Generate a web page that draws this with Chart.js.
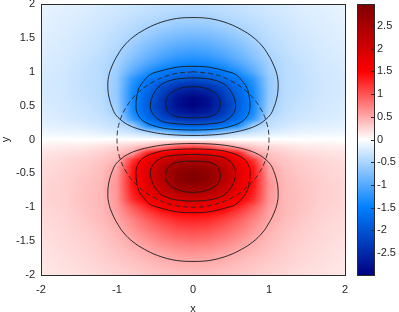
<!DOCTYPE html>
<html><head><meta charset="utf-8">
<script src="https://cdn.jsdelivr.net/npm/chart.js@4.4.1/dist/chart.umd.min.js"></script>
<style>html,body{margin:0;padding:0;background:#fff}#wrap{width:399px;height:312px;position:relative}</style>
</head><body><div id="wrap"><canvas id="c" width="399" height="312"></canvas></div>
<script>
// ---- data ----
const gridX = [-2,-1.7,-1.4,-1.2,-1,-0.8,-0.6,-0.4,-0.2,0,0.2,0.4,0.6,0.8,1,1.2,1.4,1.7,2];
const gridY = [2,1.9,1.8,1.7,1.6,1.5,1.4,1.3,1.2,1.1,1,0.9,0.8,0.7,0.6,0.5,0.4,0.3,0.2,0.1,0,
  -0.1,-0.2,-0.3,-0.4,-0.5,-0.6,-0.7,-0.8,-0.9,-1,-1.1,-1.2,-1.3,-1.4,-1.5,-1.6,-1.7,-1.8,-1.9,-2];
const zRows = [
[-0.13,-0.165,-0.20,-0.23,-0.26,-0.29,-0.33,-0.36,-0.38,-0.39,-0.38,-0.36,-0.33,-0.29,-0.26,-0.23,-0.20,-0.165,-0.13],
[-0.14,-0.18,-0.21,-0.25,-0.28,-0.32,-0.36,-0.40,-0.43,-0.44,-0.43,-0.40,-0.36,-0.32,-0.28,-0.25,-0.21,-0.18,-0.14],
[-0.15,-0.19,-0.23,-0.27,-0.31,-0.36,-0.41,-0.46,-0.50,-0.51,-0.50,-0.46,-0.41,-0.36,-0.31,-0.27,-0.23,-0.19,-0.15],
[-0.16,-0.20,-0.245,-0.29,-0.34,-0.40,-0.47,-0.53,-0.59,-0.61,-0.59,-0.53,-0.47,-0.40,-0.34,-0.29,-0.245,-0.20,-0.16],
[-0.17,-0.21,-0.26,-0.31,-0.37,-0.45,-0.54,-0.63,-0.70,-0.72,-0.70,-0.63,-0.54,-0.45,-0.37,-0.31,-0.26,-0.21,-0.17],
[-0.18,-0.22,-0.28,-0.33,-0.40,-0.50,-0.63,-0.74,-0.82,-0.85,-0.82,-0.74,-0.63,-0.50,-0.40,-0.33,-0.28,-0.22,-0.18],
[-0.19,-0.23,-0.29,-0.35,-0.43,-0.57,-0.72,-0.85,-0.95,-0.98,-0.95,-0.85,-0.72,-0.57,-0.43,-0.35,-0.29,-0.23,-0.19],
[-0.20,-0.24,-0.31,-0.37,-0.47,-0.64,-0.82,-0.97,-1.08,-1.12,-1.08,-0.97,-0.82,-0.64,-0.47,-0.37,-0.31,-0.24,-0.20],
[-0.21,-0.25,-0.33,-0.40,-0.51,-0.71,-0.92,-1.10,-1.23,-1.28,-1.23,-1.10,-0.92,-0.71,-0.51,-0.40,-0.33,-0.25,-0.21],
[-0.22,-0.26,-0.35,-0.42,-0.54,-0.83,-1.08,-1.29,-1.42,-1.46,-1.42,-1.29,-1.08,-0.83,-0.54,-0.42,-0.35,-0.26,-0.22],
[-0.23,-0.27,-0.36,-0.42,-0.58,-0.96,-1.28,-1.55,-1.69,-1.73,-1.69,-1.55,-1.28,-0.96,-0.58,-0.42,-0.36,-0.27,-0.23],
[-0.24,-0.28,-0.37,-0.42,-0.62,-1.20,-1.54,-1.71,-1.91,-2.04,-1.91,-1.71,-1.54,-1.20,-0.62,-0.42,-0.37,-0.28,-0.24],
[-0.24,-0.28,-0.37,-0.42,-0.62,-1.29,-1.67,-2.05,-2.33,-2.43,-2.33,-2.05,-1.67,-1.29,-0.62,-0.42,-0.37,-0.28,-0.24],
[-0.24,-0.28,-0.36,-0.42,-0.64,-1.35,-1.78,-2.22,-2.60,-2.72,-2.60,-2.22,-1.78,-1.35,-0.64,-0.42,-0.36,-0.28,-0.24],
[-0.23,-0.27,-0.35,-0.41,-0.62,-1.37,-1.85,-2.35,-2.79,-2.95,-2.79,-2.35,-1.85,-1.37,-0.62,-0.41,-0.35,-0.27,-0.23],
[-0.22,-0.26,-0.33,-0.39,-0.58,-1.37,-1.89,-2.39,-2.80,-2.95,-2.80,-2.39,-1.89,-1.37,-0.58,-0.39,-0.33,-0.26,-0.22],
[-0.21,-0.25,-0.31,-0.37,-0.53,-1.33,-1.84,-2.31,-2.65,-2.75,-2.65,-2.31,-1.84,-1.33,-0.53,-0.37,-0.31,-0.25,-0.21],
[-0.19,-0.23,-0.28,-0.33,-0.42,-1.15,-1.67,-2.07,-2.32,-2.40,-2.32,-2.07,-1.67,-1.15,-0.42,-0.33,-0.28,-0.23,-0.19],
[-0.15,-0.18,-0.22,-0.28,-0.36,-0.52,-1.30,-1.63,-1.82,-1.87,-1.82,-1.63,-1.30,-0.52,-0.36,-0.28,-0.22,-0.18,-0.15],
[-0.09,-0.11,-0.13,-0.17,-0.22,-0.30,-0.42,-0.62,-0.90,-1.00,-0.90,-0.62,-0.42,-0.30,-0.22,-0.17,-0.13,-0.11,-0.09],
[0,0,0,0,0,0,0,0,0,0,0,0,0,0,0,0,0,0,0],
[0.09,0.11,0.13,0.17,0.22,0.30,0.42,0.62,0.90,1.00,0.90,0.62,0.42,0.30,0.22,0.17,0.13,0.11,0.09],
[0.15,0.18,0.22,0.28,0.36,0.52,1.30,1.63,1.82,1.87,1.82,1.63,1.30,0.52,0.36,0.28,0.22,0.18,0.15],
[0.19,0.23,0.28,0.33,0.42,1.15,1.67,2.07,2.32,2.40,2.32,2.07,1.67,1.15,0.42,0.33,0.28,0.23,0.19],
[0.21,0.25,0.31,0.37,0.53,1.33,1.84,2.31,2.65,2.75,2.65,2.31,1.84,1.33,0.53,0.37,0.31,0.25,0.21],
[0.22,0.26,0.33,0.39,0.58,1.37,1.89,2.39,2.80,2.95,2.80,2.39,1.89,1.37,0.58,0.39,0.33,0.26,0.22],
[0.23,0.27,0.35,0.41,0.62,1.37,1.85,2.35,2.79,2.95,2.79,2.35,1.85,1.37,0.62,0.41,0.35,0.27,0.23],
[0.24,0.28,0.36,0.42,0.64,1.35,1.78,2.22,2.60,2.72,2.60,2.22,1.78,1.35,0.64,0.42,0.36,0.28,0.24],
[0.24,0.28,0.37,0.42,0.62,1.29,1.67,2.05,2.33,2.43,2.33,2.05,1.67,1.29,0.62,0.42,0.37,0.28,0.24],
[0.24,0.28,0.37,0.42,0.62,1.20,1.54,1.71,1.91,2.04,1.91,1.71,1.54,1.20,0.62,0.42,0.37,0.28,0.24],
[0.23,0.27,0.36,0.42,0.58,0.96,1.28,1.55,1.69,1.73,1.69,1.55,1.28,0.96,0.58,0.42,0.36,0.27,0.23],
[0.22,0.26,0.35,0.42,0.54,0.83,1.08,1.29,1.42,1.46,1.42,1.29,1.08,0.83,0.54,0.42,0.35,0.26,0.22],
[0.21,0.25,0.33,0.40,0.51,0.71,0.92,1.10,1.23,1.28,1.23,1.10,0.92,0.71,0.51,0.40,0.33,0.25,0.21],
[0.20,0.24,0.31,0.37,0.47,0.64,0.82,0.97,1.08,1.12,1.08,0.97,0.82,0.64,0.47,0.37,0.31,0.24,0.20],
[0.19,0.23,0.29,0.35,0.43,0.57,0.72,0.85,0.95,0.98,0.95,0.85,0.72,0.57,0.43,0.35,0.29,0.23,0.19],
[0.18,0.22,0.28,0.33,0.40,0.50,0.63,0.74,0.82,0.85,0.82,0.74,0.63,0.50,0.40,0.33,0.28,0.22,0.18],
[0.17,0.21,0.26,0.31,0.37,0.45,0.54,0.63,0.70,0.72,0.70,0.63,0.54,0.45,0.37,0.31,0.26,0.21,0.17],
[0.16,0.20,0.245,0.29,0.34,0.40,0.47,0.53,0.59,0.61,0.59,0.53,0.47,0.40,0.34,0.29,0.245,0.20,0.16],
[0.15,0.19,0.23,0.27,0.31,0.36,0.41,0.46,0.50,0.51,0.50,0.46,0.41,0.36,0.31,0.27,0.23,0.19,0.15],
[0.14,0.18,0.21,0.25,0.28,0.32,0.36,0.40,0.43,0.44,0.43,0.40,0.36,0.32,0.28,0.25,0.21,0.18,0.14],
[0.13,0.165,0.20,0.23,0.26,0.29,0.33,0.36,0.38,0.39,0.38,0.36,0.33,0.29,0.26,0.23,0.20,0.165,0.13]
];
const colorRange = [-2.98, 2.98];
const xTickValues = [-2,-1,0,1,2];
const yTickValues = [-2,-1.5,-1,-0.5,0,0.5,1,1.5,2];
const cbTickValues = [-2.5,-2,-1.5,-1,-0.5,0,0.5,1,1.5,2,2.5];

// contour lines (x, y)
const blueLevel05 = [[0,1.80],[-0.14,1.795],[-0.29,1.77],[-0.47,1.71],[-0.64,1.62],[-0.79,1.51],[-0.91,1.38],[-0.99,1.25],[-1.06,1.10],[-1.11,0.93],[-1.12,0.76],[-1.10,0.60],[-1.06,0.46],[-1.02,0.37],[-0.95,0.29],[-0.86,0.22],[-0.73,0.16],[-0.55,0.11],[-0.38,0.08],[-0.2,0.065],[0,0.06],[0.2,0.065],[0.38,0.08],[0.55,0.11],[0.73,0.16],[0.86,0.22],[0.95,0.29],[1.02,0.37],[1.06,0.46],[1.10,0.60],[1.12,0.76],[1.11,0.93],[1.06,1.10],[0.99,1.25],[0.91,1.38],[0.79,1.51],[0.64,1.62],[0.47,1.71],[0.29,1.77],[0.14,1.795],[0,1.80]];
const blueLevel15 = [[0,1.08],[-0.15,1.075],[-0.29,1.05],[-0.43,1.01],[-0.56,0.96],[-0.65,0.86],[-0.71,0.76],[-0.74,0.63],[-0.75,0.51],[-0.74,0.41],[-0.69,0.31],[-0.62,0.25],[-0.51,0.20],[-0.38,0.165],[-0.25,0.15],[-0.12,0.142],[0,0.14],[0.12,0.142],[0.25,0.15],[0.38,0.165],[0.51,0.20],[0.62,0.25],[0.69,0.31],[0.74,0.41],[0.75,0.51],[0.74,0.63],[0.71,0.76],[0.65,0.86],[0.56,0.96],[0.43,1.01],[0.29,1.05],[0.15,1.075],[0,1.08]];
const blueLevel20 = [[0,0.91],[-0.13,0.903],[-0.25,0.885],[-0.35,0.85],[-0.43,0.80],[-0.52,0.67],[-0.56,0.51],[-0.53,0.38],[-0.43,0.28],[-0.35,0.25],[-0.25,0.235],[-0.12,0.224],[0,0.22],[0.12,0.224],[0.25,0.235],[0.35,0.25],[0.43,0.28],[0.53,0.38],[0.56,0.51],[0.52,0.67],[0.43,0.80],[0.35,0.85],[0.25,0.885],[0.13,0.903],[0,0.91]];
const blueLevel25 = [[0,0.78],[-0.1,0.773],[-0.18,0.75],[-0.26,0.71],[-0.31,0.67],[-0.35,0.6],[-0.36,0.54],[-0.35,0.47],[-0.32,0.40],[-0.27,0.36],[-0.2,0.335],[-0.1,0.323],[0,0.32],[0.1,0.323],[0.2,0.335],[0.27,0.36],[0.32,0.40],[0.35,0.47],[0.36,0.54],[0.35,0.6],[0.31,0.67],[0.26,0.71],[0.18,0.75],[0.1,0.773],[0,0.78]];
const redLevel05 = [[0,-1.80],[-0.14,-1.795],[-0.29,-1.77],[-0.47,-1.71],[-0.64,-1.62],[-0.79,-1.51],[-0.91,-1.38],[-0.99,-1.25],[-1.06,-1.10],[-1.11,-0.93],[-1.12,-0.76],[-1.10,-0.60],[-1.06,-0.46],[-1.02,-0.37],[-0.95,-0.29],[-0.86,-0.22],[-0.73,-0.16],[-0.55,-0.11],[-0.38,-0.08],[-0.2,-0.065],[0,-0.06],[0.2,-0.065],[0.38,-0.08],[0.55,-0.11],[0.73,-0.16],[0.86,-0.22],[0.95,-0.29],[1.02,-0.37],[1.06,-0.46],[1.10,-0.60],[1.12,-0.76],[1.11,-0.93],[1.06,-1.10],[0.99,-1.25],[0.91,-1.38],[0.79,-1.51],[0.64,-1.62],[0.47,-1.71],[0.29,-1.77],[0.14,-1.795],[0,-1.80]];
const redLevel15 = [[0,-1.08],[-0.15,-1.075],[-0.29,-1.05],[-0.43,-1.01],[-0.56,-0.96],[-0.65,-0.86],[-0.71,-0.76],[-0.74,-0.63],[-0.75,-0.51],[-0.74,-0.41],[-0.69,-0.31],[-0.62,-0.25],[-0.51,-0.20],[-0.38,-0.165],[-0.25,-0.15],[-0.12,-0.142],[0,-0.14],[0.12,-0.142],[0.25,-0.15],[0.38,-0.165],[0.51,-0.20],[0.62,-0.25],[0.69,-0.31],[0.74,-0.41],[0.75,-0.51],[0.74,-0.63],[0.71,-0.76],[0.65,-0.86],[0.56,-0.96],[0.43,-1.01],[0.29,-1.05],[0.15,-1.075],[0,-1.08]];
const redLevel20 = [[0,-0.91],[-0.13,-0.903],[-0.25,-0.885],[-0.35,-0.85],[-0.43,-0.80],[-0.52,-0.67],[-0.56,-0.51],[-0.53,-0.38],[-0.43,-0.28],[-0.35,-0.25],[-0.25,-0.235],[-0.12,-0.224],[0,-0.22],[0.12,-0.224],[0.25,-0.235],[0.35,-0.25],[0.43,-0.28],[0.53,-0.38],[0.56,-0.51],[0.52,-0.67],[0.43,-0.80],[0.35,-0.85],[0.25,-0.885],[0.13,-0.903],[0,-0.91]];
const redLevel25 = [[0,-0.78],[-0.1,-0.773],[-0.18,-0.75],[-0.26,-0.71],[-0.31,-0.67],[-0.35,-0.6],[-0.36,-0.54],[-0.35,-0.47],[-0.32,-0.40],[-0.27,-0.36],[-0.2,-0.335],[-0.1,-0.323],[0,-0.32],[0.1,-0.323],[0.2,-0.335],[0.27,-0.36],[0.32,-0.40],[0.35,-0.47],[0.36,-0.54],[0.35,-0.6],[0.31,-0.67],[0.26,-0.71],[0.18,-0.75],[0.1,-0.773],[0,-0.78]];
const unitCircle = [[0,1],[-0.259,0.966],[-0.5,0.866],[-0.707,0.707],[-0.866,0.5],[-0.966,0.259],[-1,0],[-0.966,-0.259],[-0.866,-0.5],[-0.707,-0.707],[-0.5,-0.866],[-0.259,-0.966],[0,-1],[0.259,-0.966],[0.5,-0.866],[0.707,-0.707],[0.866,-0.5],[0.966,-0.259],[1,0],[0.966,0.259],[0.866,0.5],[0.707,0.707],[0.5,0.866],[0.259,0.966],[0,1]];

// ---- rendering ----
const FONT = {family: '"Liberation Sans", Arial, Helvetica, sans-serif', size: 11};
const TEXT = '#262626';

function colorOf(v) {
  let t = v / colorRange[1];
  if (t > 1) t = 1; if (t < -1) t = -1;
  let r, g, b;
  if (t >= 0) {
    if (t <= 0.5) { const s = t / 0.5; r = 1; g = 1 - s; b = 1 - s; }
    else { const s = (t - 0.5) / 0.5; r = 1 - 0.5 * s; g = 0; b = 0; }
  } else {
    const u = -t;
    if (u <= 0.5) { const s = u / 0.5; r = 1 - s; g = 1 - 0.5 * s; b = 1; }
    else { const s = (u - 0.5) / 0.5; r = 0; g = 0.5 - 0.5 * s; b = 1 - 0.5 * s; }
  }
  return [Math.round(r * 255), Math.round(g * 255), Math.round(b * 255)];
}
function clamp01(v) { return v < 0 ? 0 : (v > 1 ? 1 : v); }
function sampleGrid(x, y) {
  let i = 0; while (i < gridX.length - 2 && x > gridX[i + 1]) i++;
  let j = 0; while (j < gridY.length - 2 && y < gridY[j + 1]) j++;
  const tx = clamp01((x - gridX[i]) / (gridX[i + 1] - gridX[i]));
  const ty = clamp01((gridY[j] - y) / (gridY[j] - gridY[j + 1]));
  const a = zRows[j][i], b = zRows[j][i + 1], c = zRows[j + 1][i], d = zRows[j + 1][i + 1];
  return (a * (1 - tx) + b * tx) * (1 - ty) + (c * (1 - tx) + d * tx) * ty;
}

const heatmapPlugin = {
  id: 'heatmap',
  beforeDatasetsDraw(chart) {
    const {ctx, chartArea} = chart;
    const xs = chart.scales.x, ys = chart.scales.y;
    const L = Math.round(chartArea.left), T = Math.round(chartArea.top);
    const W = Math.round(chartArea.right) - L, H = Math.round(chartArea.bottom) - T;
    const off = document.createElement('canvas'); off.width = W; off.height = H;
    const octx = off.getContext('2d');
    const img = octx.createImageData(W, H);
    for (let py = 0; py < H; py++) {
      const y = ys.getValueForPixel(T + py + 0.5);
      for (let px = 0; px < W; px++) {
        const x = xs.getValueForPixel(L + px + 0.5);
        const c = colorOf(sampleGrid(x, y));
        const k = (py * W + px) * 4;
        img.data[k] = c[0]; img.data[k + 1] = c[1]; img.data[k + 2] = c[2]; img.data[k + 3] = 255;
      }
    }
    octx.putImageData(img, 0, 0);
    ctx.save(); ctx.drawImage(off, L, T); ctx.restore();
  },
  afterDatasetsDraw(chart) {
    const {ctx, chartArea} = chart;
    ctx.save();
    ctx.strokeStyle = '#2b2b2b'; ctx.lineWidth = 1;
    const L = Math.round(chartArea.left), T = Math.round(chartArea.top);
    const R = Math.round(chartArea.right), B = Math.round(chartArea.bottom);
    ctx.strokeRect(L + 0.5, T + 0.5, R - L, B - T);
    // colour bar
    const cb = chart.scales.cb;
    const x0 = Math.round(cb.left) + 12, x1 = Math.round(cb.left) + 29;
    const t0 = Math.round(cb.top), b0 = Math.round(cb.bottom);
    for (let py = t0; py < b0; py++) {
      const c = colorOf(cb.getValueForPixel(py + 0.5));
      ctx.fillStyle = 'rgb(' + c[0] + ',' + c[1] + ',' + c[2] + ')';
      ctx.fillRect(x0, py, x1 - x0, 1);
    }
    ctx.strokeRect(x0 + 0.5, t0 + 0.5, x1 - x0, b0 - t0);
    ctx.beginPath();
    cbTickValues.forEach(v => {
      const p = Math.round(cb.getPixelForValue(v)) + 0.5;
      ctx.moveTo(x1 - 3, p); ctx.lineTo(x1, p);
    });
    ctx.stroke();
    ctx.restore();
  }
};

function lineSet(pts, dashed) {
  return {
    data: pts.map(p => ({x: p[0], y: p[1]})),
    showLine: true, pointRadius: 0, borderWidth: 1,
    borderColor: dashed ? 'rgba(40,40,40,0.9)' : 'rgba(25,25,25,0.9)',
    borderDash: dashed ? [5, 3] : [], tension: 0.4, fill: false
  };
}

const tickFmt = v => String(Math.round(v * 100) / 100);
const noVPad = s => { s.paddingTop = 0; s.paddingBottom = 0; };

new Chart(document.getElementById('c'), {
  type: 'scatter',
  data: {
    datasets: [
      lineSet(blueLevel05), lineSet(blueLevel15), lineSet(blueLevel20), lineSet(blueLevel25),
      lineSet(redLevel05), lineSet(redLevel15), lineSet(redLevel20), lineSet(redLevel25),
      lineSet(unitCircle, true)
    ]
  },
  options: {
    responsive: false, animation: false, devicePixelRatio: 1,
    layout: {padding: {top: 4, left: 0, right: 0, bottom: 0}},
    plugins: {legend: {display: false}, tooltip: {enabled: false}},
    scales: {
      x: {
        type: 'linear', position: 'bottom', min: -2, max: 2,
        grid: {display: false, drawTicks: false}, border: {display: false},
        ticks: {padding: 8, font: FONT, color: TEXT, maxRotation: 0, autoSkip: false, callback: tickFmt},
        afterBuildTicks: s => { s.ticks = xTickValues.map(v => ({value: v})); },
        afterFit: s => { s.height = 37; s.paddingLeft = 0; s.paddingRight = 0; },
        title: {display: true, text: 'x', font: FONT, color: TEXT, padding: {top: 0, bottom: -4}}
      },
      y: {
        type: 'linear', position: 'left', min: -2, max: 2,
        grid: {display: false, drawTicks: false}, border: {display: false},
        ticks: {padding: 6, font: FONT, color: TEXT, autoSkip: false, callback: tickFmt},
        afterBuildTicks: s => { s.ticks = yTickValues.map(v => ({value: v})); },
        afterFit: s => { s.width = 41; noVPad(s); },
        title: {display: true, text: 'y', font: FONT, color: TEXT, padding: {top: -1, bottom: 0}}
      },
      cb: {
        type: 'linear', position: 'right', min: colorRange[0], max: colorRange[1],
        grid: {display: true, drawOnChartArea: false, drawTicks: true, tickLength: 30, color: 'rgba(0,0,0,0)'},
        border: {display: false},
        ticks: {padding: 2, font: FONT, color: TEXT, autoSkip: false, callback: tickFmt},
        afterBuildTicks: s => { s.ticks = cbTickValues.map(v => ({value: v})); },
        afterFit: s => { s.width = 54; noVPad(s); }
      }
    }
  },
  plugins: [heatmapPlugin]
});
</script></body></html>
